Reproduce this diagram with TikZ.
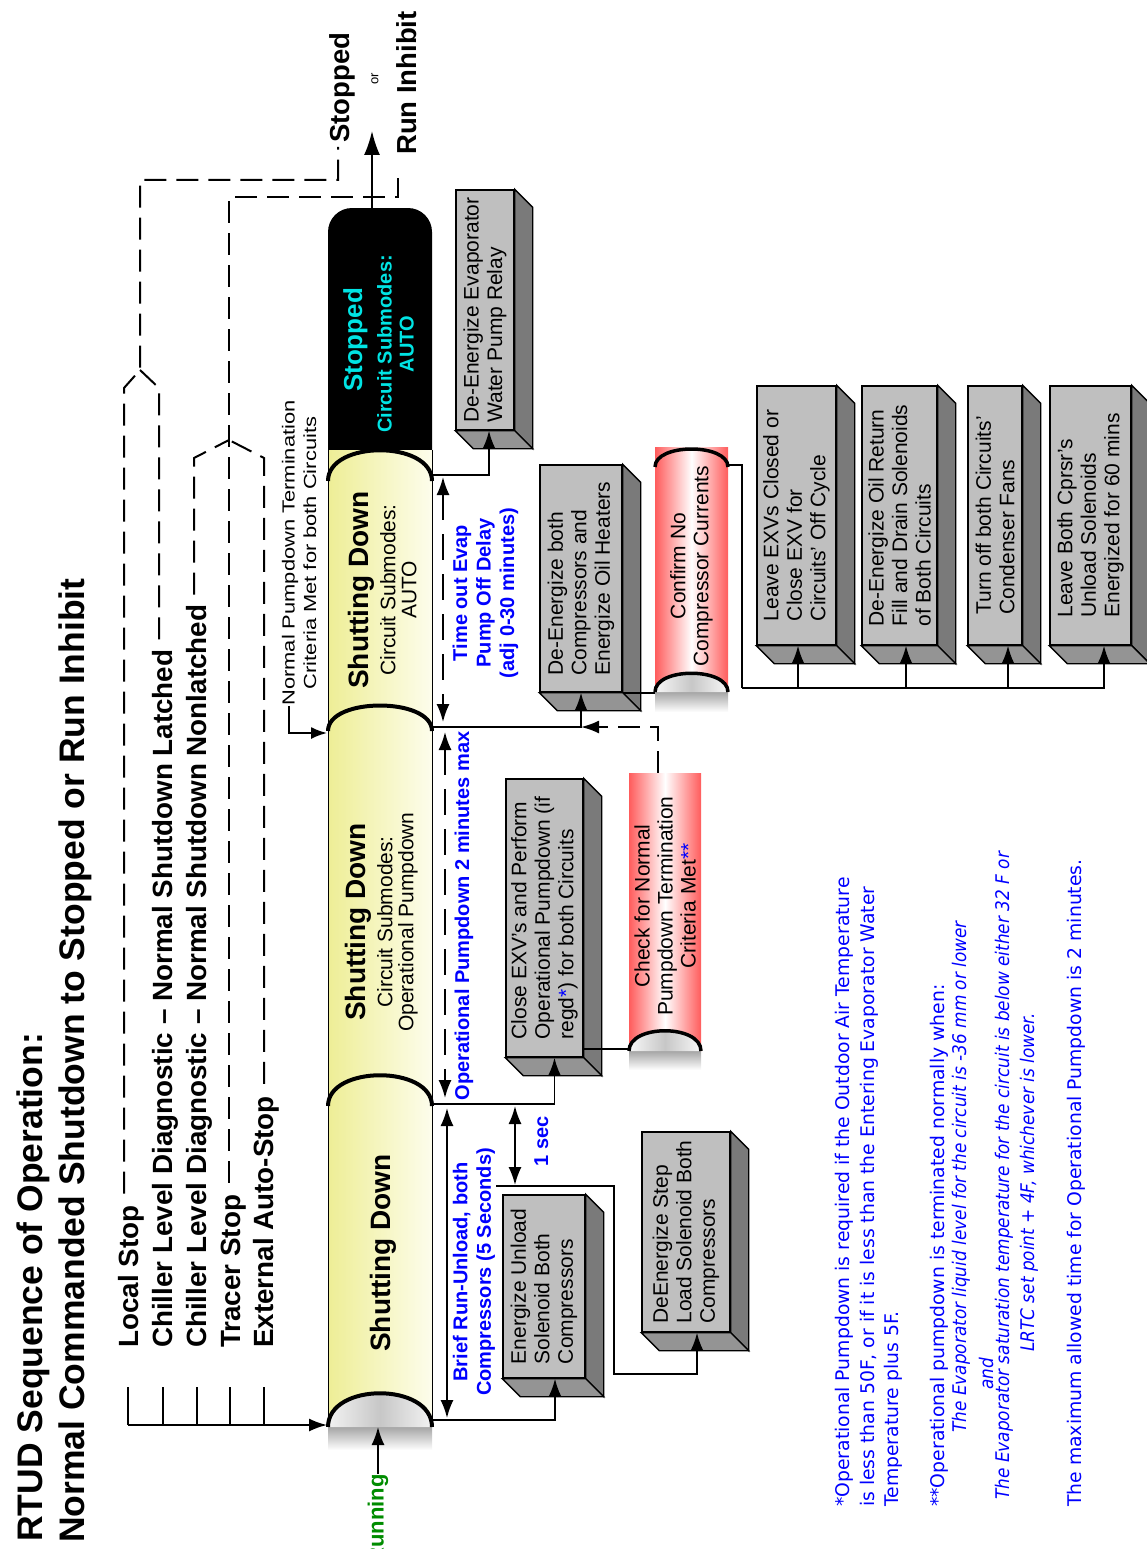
\documentclass[tikz,border=0pt]{standalone}
\usepackage{fontspec}
\setmainfont{Liberation Sans}
\newfontfamily\notefont{DejaVu Sans}
\newfontfamily\noteitfont[FakeStretch=0.9]{DejaVu Sans}
\newfontfamily\widefont[FakeStretch=1.25]{Liberation Sans}
\usepackage{xcolor}
\definecolor{pipeyellow}{RGB}{238,238,150}
\definecolor{pipelight}{RGB}{253,253,236}
\definecolor{cylred}{RGB}{255,92,92}
\definecolor{stopcyan}{RGB}{0,228,228}
\definecolor{rungreen}{RGB}{0,140,0}
\usepackage{tikz}
\usetikzlibrary{arrows.meta,calc,positioning}

\tikzset{
  conn/.style={line width=1.8pt},
  arrowend/.style={-{Latex[length=18pt,width=13pt]}},
  bothends/.style={{Latex[length=18pt,width=13pt]}-{Latex[length=18pt,width=13pt]}},
  dashline/.style={line width=2pt, dash pattern=on 22pt off 10pt},
  dimdash/.style={dash pattern=on 26pt off 14pt},
  arcline/.style={line width=4pt},
  unitbox/.style={draw, fill=black!25, line width=1.4pt, align=left,
    font=\fontsize{21}{23.5}\selectfont},
  cyltext/.style={align=center, font=\fontsize{21}{23}\selectfont},
  inputlbl/.style={anchor=base west, font=\bfseries\fontsize{27.8}{32}\selectfont},
  segtitle/.style={anchor=base, font=\bfseries\fontsize{28}{30}\selectfont},
  segsub/.style={anchor=north, align=center, font=\fontsize{21}{21}\selectfont},
  bluelbl/.style={text=blue, align=center, font=\bfseries\fontsize{20}{23.5}\selectfont},
  notelbl/.style={text=blue, anchor=base west, font=\notefont\fontsize{18.8}{24.5}\selectfont},
  noteit/.style={text=blue, anchor=base west, font=\noteitfont\itshape\fontsize{18.8}{24.5}\selectfont},
}

% side faces of a unit box
\newcommand{\boxsides}[1]{%
  \filldraw[fill=black!52, line width=1.4pt] (#1.south east) -- ++(18,18)
    -- ($(#1.south west)+(18,18)$) -- (#1.south west) -- cycle;
  \filldraw[fill=black!42, line width=1.4pt] (#1.north west) -- (#1.south west)
    -- ++(18,18) -- ($(#1.north west)+(18,18)$) -- cycle;}

\begin{document}
\begin{tikzpicture}[x=1pt, y=-1pt, every node/.append style={rotate=90, inner sep=0pt}]
  \useasboundingbox (0,0) rectangle (1146,1549);
  % title
  \node[anchor=base west, font=\bfseries\fontsize{35.5}{40}\selectfont] (title1) at (42,1542) {RTUD Sequence of Operation:};
  \node[anchor=base west, font=\bfseries\fontsize{35.5}{40}\selectfont] (title2) at (84,1543) {Normal Commanded Shutdown to Stopped or Run Inhibit};
  % inputs
  \node[inputlbl] (inLocal) at (138,1348) {Local Stop};
  \node[inputlbl] (inLatch) at (172,1348) {Chiller Level Diagnostic -- Normal Shutdown Latched};
  \node[inputlbl] (inNonlatch) at (206,1348) {Chiller Level Diagnostic -- Normal Shutdown Nonlatched};
  \node[inputlbl] (inTracer) at (240,1348) {Tracer Stop};
  \node[inputlbl] (inExt) at (273,1348) {External Auto-Stop};
  % end states
  \node[anchor=base west, font=\bfseries\fontsize{27.5}{30}\selectfont] (lblStopped) at (349,143) {Stopped};
  \node[font=\fontsize{13}{14}\selectfont] (lblOr) at (375,79) {or};
  \node[anchor=base west, font=\bfseries\fontsize{27.5}{30}\selectfont] (lblInhibit) at (416,155) {Run Inhibit};
  \node[anchor=east, text=rungreen, font=\bfseries\fontsize{22}{24}\selectfont] (lblRunning) at (378,1474) {Running};

  % pipe
  \fill[black, rounded corners=24pt] (328,208) rectangle (432,480);
  \shade[left color=pipeyellow, right color=pipelight] (328,450) rectangle (432,1427);
  \draw[line width=1pt] (328,450) -- (328,1427) (432,450) -- (432,1427);
  \shade[top color=black!35, bottom color=white] (328,1427) rectangle (432,1450);
  \shade[left color=black!5, right color=black!5, middle color=black!22] (328,1427) .. controls (328,1382) and (432,1382) .. (432,1427) -- cycle;
  \draw[arcline] (328,1427) .. controls (328,1382) and (432,1382) .. (432,1427);
  \foreach \ya/\yc in {1106/1065, 731/697, 481/440}
    \draw[arcline] (328,\ya) .. controls (328,\yc) and (432,\yc) .. (432,\ya);
  % pipe texts
  \node[segtitle] (seg1) at (390,1253) {Shutting Down};
  \node[segtitle] (seg2) at (365,922) {Shutting Down};
  \node[segsub] (seg2sub) at (377,922) {Circuit Submodes:\\Operational Pumpdown};
  \node[segtitle] (seg3) at (368,590) {Shutting Down};
  \node[segsub] (seg3sub) at (380,590) {Circuit Submodes:\\AUTO};
  \node[segtitle, text=stopcyan, font=\bfseries\fontsize{26}{28}\selectfont] (seg4) at (362,340) {Stopped};
  \node[segsub, text=stopcyan, font=\bfseries\fontsize{20}{22}\selectfont] (seg4sub) at (377,344) {Circuit Submodes:\\AUTO};

  \coordinate (j1) at (432,1420);
  \coordinate (j2) at (432,1104);
  \coordinate (j3) at (432,727);
  \coordinate (j4) at (432,475);
  \coordinate (pipeIn) at (327,1425);
  \coordinate (busL) at (128,1425);
  \coordinate (runTip) at (378,1427);
  \coordinate (pipeTop) at (372,208);
  \coordinate (outTip) at (372,131);
  \coordinate (seg3In) at (327,733);

  % unit boxes
  \node[unitbox, minimum width=240, minimum height=58] (boxA) at (485,310) {De-Energize Evaporator\\Water Pump Relay};
  \boxsides{boxA}
  \node[unitbox, minimum width=183, minimum height=82] (boxB) at (544,1286.5) {Energize Unload\\Solenoid Both\\Compressors};
  \boxsides{boxB}
  \node[unitbox, minimum width=200, minimum height=88] (boxC) at (686,1232) {DeEnergize Step\\Load Solenoid Both\\Compressors};
  \boxsides{boxC}
  \node[unitbox, minimum width=278, minimum height=77] (boxD) at (544.5,918) {Close EXV's and Perform\\Operational Pumpdown (if\\regd\textcolor{blue}{*}) for both Circuits};
  \boxsides{boxD}
  \node[unitbox, minimum width=227, minimum height=82] (boxE) at (581,578.5) {De-Energize both\\Compressors and\\Energize Oil Heaters};
  \boxsides{boxE}
  \node[unitbox, minimum width=259, minimum height=79] (boxH) at (796.5,515.5) {Leave EXVs Closed or\\Close EXV for\\Circuits' Off Cycle};
  \boxsides{boxH}
  \node[unitbox, minimum width=259, minimum height=75] (boxI) at (899.5,515.5) {De-Energize Oil Return\\Fill and Drain Solenoids\\of Both Circuits};
  \boxsides{boxI}
  \node[unitbox, minimum width=259, minimum height=54] (boxJ) at (995,515.5) {Turn off both Circuits'\\Condenser Fans};
  \boxsides{boxJ}
  \node[unitbox, minimum width=259, minimum height=81] (boxK) at (1090.5,515.5) {Leave Both Cprsr's\\Unload Solenoids\\Energized for 60 mins};
  \boxsides{boxK}

  % check cylinder
  \shade[left color=cylred, right color=cylred, middle color=white] (629,773) rectangle (701,1051);
  \shade[top color=black!35, bottom color=white] (629,1051) rectangle (701,1070);
  \shade[left color=black!3, right color=black!3, middle color=black!22] (629,1051) .. controls (629,1024) and (701,1024) .. (701,1051) -- cycle;
  \draw[line width=3.5pt] (629,1051) .. controls (629,1024) and (701,1024) .. (701,1051);
  \node[cyltext, minimum width=266, minimum height=72] (cylF) at (665,906) {Check for Normal\\Pumpdown Termination\\Criteria Met\textcolor{blue}{**}};
  % confirm cylinder
  \shade[left color=cylred, right color=cylred, middle color=white] (655,447) rectangle (728,692);
  \shade[top color=black!35, bottom color=white] (655,692) rectangle (728,712);
  \shade[left color=black!3, right color=black!3, middle color=black!22] (655,692) .. controls (655,667) and (728,667) .. (728,692) -- cycle;
  \draw[line width=3.5pt] (655,692) .. controls (655,667) and (728,667) .. (728,692);
  \draw[line width=3.5pt] (655,467) .. controls (655,443) and (728,443) .. (728,467);
  \node[cyltext, minimum width=238, minimum height=73] (cylG) at (691.5,566) {Confirm No\\Compressor Currents};

  % blue timing labels
  \node[bluelbl] (lblTimeout) at (485.5,593) {Time out Evap\\Pump Off Delay\\(adj 0-30 minutes)};
  \node[bluelbl, anchor=base] (lblOpPump) at (469,916) {Operational Pumpdown 2 minutes max};
  \node[bluelbl] (lblBrief) at (474,1272) {Brief Run-Unload, both\\Compressors (5 Seconds)};
  \node[bluelbl, anchor=base] (lblOneSec) at (548,1141) {1 sec};
  \node[align=center, font=\widefont\fontsize{17.5}{21.5}\selectfont] (lblNormal) at (299,553) {Normal Pumpdown Termination\\Criteria Met for both Circuits};

  % timing arrows
  \coordinate (tmTop) at (443,477);  \coordinate (tmBot) at (443,722);
  \coordinate (opTop) at (445,732);  \coordinate (opBot) at (445,1098);
  \coordinate (brTop) at (447,1108); \coordinate (brBot) at (447,1418);
  \coordinate (osTop) at (515,1106); \coordinate (osBot) at (515,1185);
  \draw[conn, bothends, dimdash] (tmTop) -- (tmBot);
  \draw[conn, bothends, dimdash] (opTop) -- (opBot);
  \draw[conn, bothends] (brTop) -- (brBot);
  \draw[conn, bothends] (osTop) -- (osBot);

  % input lines
  \foreach \tx in {128,163,197,230,264}
    \draw[conn] (\tx,1387) -- (\tx,1425);
  \draw[conn, arrowend] (busL) -- (pipeIn);
  \draw[conn, arrowend] (lblRunning.east) -- (runTip);
  \draw[dashline, shorten <=12pt, shorten >=4pt] (inLocal.east -| 124,0) -- (124,388) -- (140,370) -- (140,180) -- (338,180) -- (lblStopped.west -| 338,0);
  \draw[dashline, shorten <=10pt] (inLatch.east -| 159,0) -- (159,388) -- (140,370);
  \draw[dashline, shorten <=10pt] (inNonlatch.east -| 194,0) -- (194,458) -- (229,440);
  \draw[dashline, shorten <=12pt, shorten >=14pt] (inTracer.east -| 229,0) -- (229,197) -- (398,197) -- (lblInhibit.west -| 398,0);
  \draw[dashline, shorten <=12pt] (inExt.east -| 264,0) -- (264,458) -- (229,440);
  \draw[conn, -{Latex[length=24pt,width=16pt]}] (pipeTop) -- (outTip);
  \draw[conn, -{Latex[length=16pt,width=12pt]}] ($(lblNormal.north west)+(7,0)$) |- (seg3In);

  % pipe to boxes
  \draw[conn, arrowend] (j1) -| ($(boxB.west)+(11,0)$);
  \draw[conn, arrowend] (j2) -| ($(boxD.west)+(10,0)$);
  \draw[conn, arrowend] (j3) -| (boxE.west);
  \draw[conn, arrowend] (j4) -| ($(boxA.west)+(4,0)$);
  \draw[conn, arrowend] ($(boxB.north east)+(-6,-8)$) -- ++(118,0) -- ++(0,188) -| ($(boxC.west)+(11,0)$);
  \coordinate (dOut) at ($(boxD.south west)+(0,-9)$);
  \draw[conn] (dOut) -- (dOut -| cylF.north);
  \draw[conn] (boxE.south west) -- (boxE.south west -| cylG.north);
  \coordinate (eCorner) at (boxE.west |- j3);
  \draw[dashline, arrowend] ($(cylF.east)+(-7,0)$) |- (eCorner);
  % confirm to final boxes
  \coordinate (gOut) at ($(cylG.south east)+(0,18)$);
  \coordinate (bus) at (742,688);
  \coordinate (inH) at ($(boxH.west)+(1.5,0)$);
  \coordinate (inI) at ($(boxI.west)+(6.5,0)$);
  \coordinate (inJ) at ($(boxJ.west)+(13,0)$);
  \coordinate (inK) at ($(boxK.west)+(13.5,0)$);
  \draw[conn] (gOut) -| (bus);
  \draw[conn, arrowend] (bus) -| (inK);
  \draw[conn, arrowend] (inH |- bus) -- (inH);
  \draw[conn, arrowend] (inI |- bus) -- (inI);
  \draw[conn, arrowend] (inJ |- bus) -- (inJ);

  % notes
  \node[notelbl, anchor=north west, align=left] (note1) at (835.5,1507) {*Operational Pumpdown is required if the Outdoor Air Temperature\\is less than 50F, or if it is less than the Entering Evaporator Water\\Temperature plus 5F.};
  \node[notelbl] (note2) at (944,1507) {**Operational pumpdown is terminated normally when:};
  \node[noteit] (note2a) at (966,1433) {The Evaporator liquid level for the circuit is -36 mm or lower};
  \node[noteit] (note2b) at (993,1390) {and};
  \node[noteit] (note2c) at (1009,1500) {The Evaporator saturation temperature for the circuit is below either 32 F or};
  \node[noteit] (note2d) at (1034,1352) {LRTC set point + 4F, whichever is lower.};
  \node[notelbl] (note3) at (1081,1507) {The maximum allowed time for Operational Pumpdown is 2 minutes.};
\end{tikzpicture}
\end{document}
